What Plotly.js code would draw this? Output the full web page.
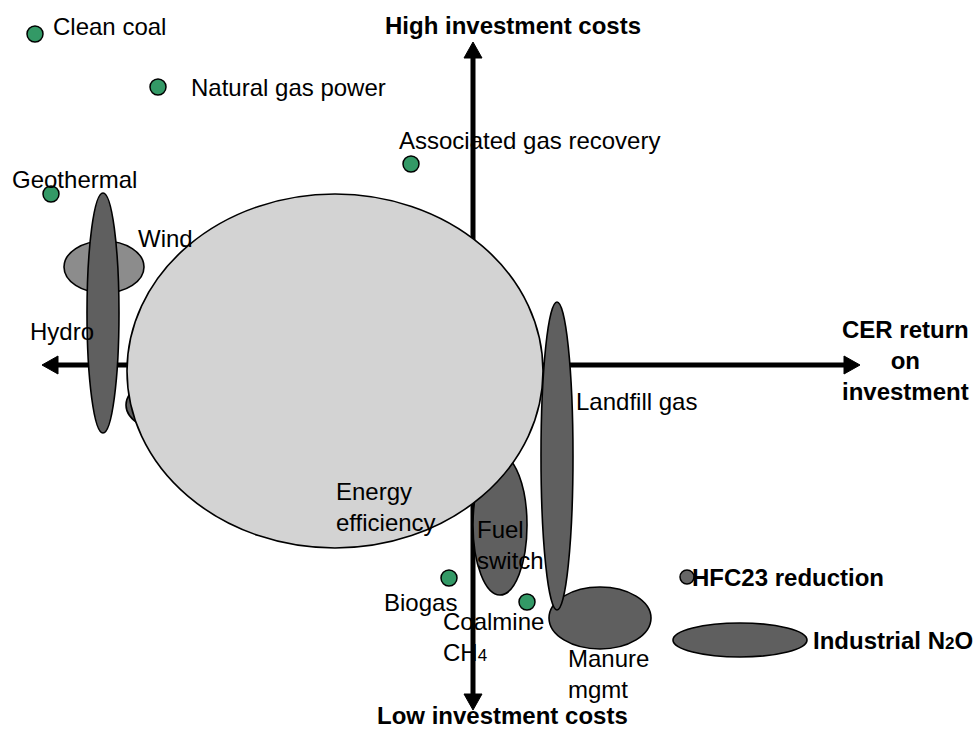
<!DOCTYPE html>
<html>
<head>
<meta charset="utf-8">
<script src="https://cdn.plot.ly/plotly-3.0.1.min.js"></script>
<style>html,body{margin:0;padding:0;background:#fff}#chart{width:978px;height:729px}</style>
</head>
<body>
<div id="chart"></div>
<script>
// ---- Data: x = CER return on investment, y = investment costs (origin at axis crossing) ----
const pointNames  = ["Clean coal", "Natural gas power", "Associated gas recovery", "Geothermal", "Biogas", "Coalmine CH4", "HFC23 reduction"];
const pointX      = [-438, -315, -62, -422, -24, 54, 214];
const pointY      = [331, 278, 201, 171, -213, -237, -212];
const pointGroup  = ["green", "green", "green", "green", "green", "green", "grey"];

const ellipseNames = ["Hidden", "Manure mgmt", "Fuel switch", "Energy efficiency", "Wind", "Hydro", "Landfill gas", "Industrial N2O"];
const ellipseCX    = [-298, 127, 27, -138, -369, -370, 84, 267];
const ellipseCY    = [-40, -253, -160, -6, 98, 52, -91, -275];
const ellipseRX    = [49, 51, 27, 208, 40, 16, 16, 67];
const ellipseRY    = [28, 31, 70, 177, 26, 120, 154, 17];
const ellipseTone  = ["dark", "dark", "dark", "light", "mid", "dark", "dark", "dark"];

const axisXEnds = [-431, 387];
const axisYEnds = [-345, 323];

const labelTexts = ["Clean coal", "Natural gas power", "Associated gas recovery", "Geothermal", "Wind", "Hydro",
  "Landfill gas", "Energy<br>efficiency", "Fuel<br>switch", "Biogas", "Coalmine<br>CH<span style=\"font-size:17px\">4</span>", "Manure<br>mgmt",
  "<b>HFC23 reduction</b>", "<b>Industrial N<span style=\"font-size:17px\">2</span>O</b>"];
const labelX = [-422, -284, -76, -463, -337, -445, 101, -139, 2, -91, -32, 93, 217, 338];
const labelY = [339, 278, 225, 186, 127, 34, -36, -142, -180, -237, -272, -309, -212, -275];

const axisTitles  = ["<b>High investment costs</b>", "<b>Low investment costs</b>", "<b>CER return<br>on<br>investment</b>"];
const axisTitleX  = [40, 29, 432];
const axisTitleY  = [340, -350, 5];

// ---- Styles ----
const FONT = "Liberation Sans, Arial, sans-serif";
const tones = {dark: "#5f5f5f", mid: "#8c8c8c", light: "#d3d3d3"};
const markerColors = {green: "#339966", grey: "#666666"};
const AX_W = 5, HEAD_L = 16, HEAD_W = 9;

const shapes = [];
// axis shafts (beneath everything)
shapes.push({type: "line", layer: "below", x0: axisXEnds[0] + HEAD_L, x1: axisXEnds[1] - HEAD_L, y0: 0, y1: 0, line: {color: "#000", width: AX_W}});
shapes.push({type: "line", layer: "below", x0: 0, x1: 0, y0: axisYEnds[0] + HEAD_L, y1: axisYEnds[1] - HEAD_L, line: {color: "#000", width: AX_W}});
// arrowheads
const heads = [
  `M ${axisXEnds[0]} 0 L ${axisXEnds[0] + HEAD_L} ${HEAD_W} L ${axisXEnds[0] + HEAD_L} ${-HEAD_W} Z`,
  `M ${axisXEnds[1]} 0 L ${axisXEnds[1] - HEAD_L} ${HEAD_W} L ${axisXEnds[1] - HEAD_L} ${-HEAD_W} Z`,
  `M 0 ${axisYEnds[0]} L ${HEAD_W} ${axisYEnds[0] + HEAD_L} L ${-HEAD_W} ${axisYEnds[0] + HEAD_L} Z`,
  `M 0 ${axisYEnds[1]} L ${HEAD_W} ${axisYEnds[1] - HEAD_L} L ${-HEAD_W} ${axisYEnds[1] - HEAD_L} Z`
];
heads.forEach(p => shapes.push({type: "path", layer: "below", path: p, fillcolor: "#000", line: {color: "#000", width: 1}}));
// ellipses
for (let i = 0; i < ellipseNames.length; i++) {
  shapes.push({
    type: "circle", layer: "below",
    x0: ellipseCX[i] - ellipseRX[i], x1: ellipseCX[i] + ellipseRX[i],
    y0: ellipseCY[i] - ellipseRY[i], y1: ellipseCY[i] + ellipseRY[i],
    fillcolor: tones[ellipseTone[i]], opacity: 1, line: {color: "#000", width: 1.6}
  });
}

const trace = {
  type: "scatter", mode: "markers",
  x: pointX, y: pointY, text: pointNames, hoverinfo: "text", opacity: 1,
  marker: {opacity: 1, size: pointGroup.map(g => g === "grey" ? 14 : 16), color: pointGroup.map(g => markerColors[g]), line: {color: "#000", width: 1.5}}
};

const annotations = [];
for (let i = 0; i < labelTexts.length; i++) {
  annotations.push({x: labelX[i], y: labelY[i], text: labelTexts[i], showarrow: false, xanchor: "left", yanchor: "middle", align: "left", font: {family: FONT, size: 24, color: "#000"}});
}
for (let i = 0; i < axisTitles.length; i++) {
  annotations.push({x: axisTitleX[i], y: axisTitleY[i], text: axisTitles[i], showarrow: false, xanchor: "center", yanchor: "middle", align: "center", font: {family: FONT, size: 24, color: "#000"}});
}

const layout = {
  width: 978, height: 729,
  margin: {l: 0, r: 0, t: 0, b: 0},
  paper_bgcolor: "#fff", plot_bgcolor: "#fff",
  showlegend: false,
  xaxis: {range: [-473, 505], visible: false, fixedrange: true},
  yaxis: {range: [-364, 365], visible: false, fixedrange: true},
  shapes: shapes,
  annotations: annotations
};

Plotly.newPlot("chart", [trace], layout, {displayModeBar: false, staticPlot: true});
</script>
</body>
</html>
